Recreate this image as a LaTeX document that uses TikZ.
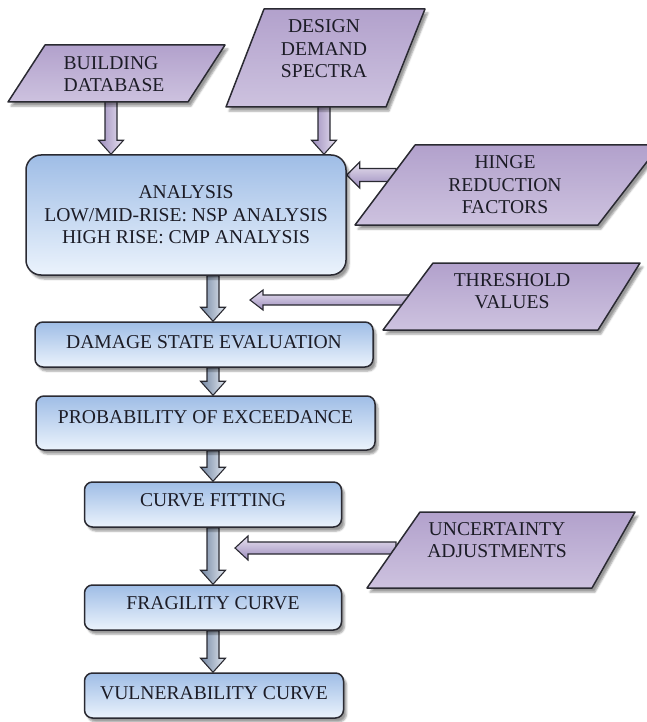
\documentclass[tikz,border=0pt]{standalone}
\usepackage{fontspec}
\setmainfont{Liberation Serif}
\usetikzlibrary{calc,shadows,shadows.blur}
\pgfdeclarelayer{bg}
\pgfsetlayers{bg,main}
\definecolor{boxtop}{HTML}{9FBDE6}
\definecolor{boxbot}{HTML}{EBF3FC}
\definecolor{partop}{HTML}{B2A1CC}
\definecolor{parbot}{HTML}{CDC2DF}
\definecolor{edge}{HTML}{2A2A32}
\definecolor{arrdark}{HTML}{7386A2}
\definecolor{arrlight}{HTML}{E4EAF2}
\definecolor{pardark}{HTML}{9C8CBD}
\definecolor{parlight}{HTML}{E8E2F0}
\definecolor{txt}{HTML}{1C1C26}
\newcommand\diafont{\fontsize{19.6pt}{22.5pt}\selectfont}
\newcommand\liftby[2]{\raisebox{#1}[\height][\depth]{#2}}
\tikzset{
  box/.style={draw=edge, line width=1.5pt, rounded corners=8pt,
    top color=boxtop, bottom color=boxbot,
    blur shadow={shadow xshift=3pt, shadow yshift=-4pt},
    inner sep=0pt, font=\diafont, text=txt, align=center},
  parshape/.style={draw=edge, line width=1.5pt, line join=round,
    top color=partop, bottom color=parbot,
    blur shadow={shadow xshift=3pt, shadow yshift=-4pt}},
  ptext/.style={font=\diafont, text=txt, align=center, inner sep=0pt},
  fatv/.style={to path={let \p1=(\tikztostart), \p2=(\tikztotarget) in
    (\x1-6pt,\y1) -- (\x1-6pt,\y2+14pt) -- (\x1-12.5pt,\y2+14pt) -- (\x1,\y2)
    -- (\x1+12.5pt,\y2+14pt) -- (\x1+6pt,\y2+14pt) -- (\x1+6pt,\y1) -- cycle}},
  fath/.style={to path={let \p1=(\tikztostart), \p2=(\tikztotarget) in
    (\x1,\y1+#1) -- (\x2+13pt,\y1+#1) -- (\x2+13pt,\y1+2*#1) -- (\x2,\y1)
    -- (\x2+13pt,\y1-2*#1) -- (\x2+13pt,\y1-#1) -- (\x1,\y1-#1) -- cycle}},
  bluearrow/.style={draw=edge, line width=1.1pt, line join=miter,
    left color=arrdark, right color=arrlight},
  purparrow/.style={draw=edge, line width=1.1pt, line join=miter,
    left color=pardark, right color=parlight},
  lavarrow/.style={draw=edge, line width=1.1pt, line join=miter,
    top color=parlight, bottom color=pardark}
}
\begin{document}
\begin{tikzpicture}[x=1pt,y=-1pt]
\useasboundingbox (0,0) rectangle (647,722);

% input parallelograms
\draw[parshape] (45,45) -- (225,45) -- (188,102) -- (8,102) -- cycle;
\node[ptext, align=left] (bdtext) at (114,74) {BUILDING\\DATABASE};
\draw[parshape] (264,9) -- (425,9) -- (386,107) -- (226,107) -- cycle;
\node[ptext] (ddstext) at (324,49) {DESIGN\\DEMAND\\SPECTRA};
\draw[parshape] (415,145) -- (660,145) -- (598,225) -- (355,225) -- cycle;
\node[ptext] (hingetext) at (505,185) {HINGE\\REDUCTION\\FACTORS};
\draw[parshape] (433,263) -- (640,263) -- (598,330) -- (383,330) -- cycle;
\node[ptext] (thrtext) at (512,291) {THRESHOLD\\VALUES};
\draw[parshape] (420,512) -- (635,512) -- (592,588) -- (367,588) -- cycle;
\node[ptext] (unctext) at (497,540) {UNCERTAINTY\\ADJUSTMENTS};

\coordinate (bdout) at (111,100);
\coordinate (ddsout) at (324,105);
\coordinate (hingeout) at (396,175);
\coordinate (throut) at (412,300);
\coordinate (thrtip) at (250,300);
\coordinate (uncout) at (396,548);
\coordinate (unctip) at (235,548);

% process boxes
\node[box, rounded corners=15pt, minimum width=320, minimum height=120] (analysis) at (186,215)
  {ANALYSIS\\LOW/MID-RISE: NSP ANALYSIS\\HIGH RISE: CMP ANALYSIS};
\node[box, minimum width=338, minimum height=45] (dse) at (204,344.5)
  {\liftby{2pt}{DAMAGE STATE EVALUATION}};
\node[box, minimum width=339, minimum height=54] (poe) at (205.5,423)
  {\liftby{6pt}{PROBABILITY OF EXCEEDANCE}};
\node[box, minimum width=257, minimum height=45] (cf) at (213,504.5)
  {\liftby{4pt}{CURVE FITTING}};
\node[box, minimum width=257, minimum height=45] (frag) at (213,607.5)
  {\liftby{4pt}{FRAGILITY CURVE}};
\node[box, minimum width=259, minimum height=45] (vuln) at (214,695.5)
  {\liftby{2pt}{VULNERABILITY CURVE}};

\begin{pgfonlayer}{bg}
\draw[fatv, purparrow] (bdout) to (bdout |- analysis.north);
\draw[fatv, purparrow] (ddsout) to (ddsout |- analysis.north);
\draw[fath=6.5pt, lavarrow] (hingeout) to (hingeout -| analysis.east);
\draw[fatv, bluearrow] (analysis.south -| cf.north) to (dse.north -| cf.north);
\draw[fath=5pt, lavarrow] (throut) to (thrtip);
\draw[fatv, bluearrow] (dse.south -| cf.north) to (poe.north -| cf.north);
\draw[fatv, bluearrow] (poe.south -| cf.north) to (cf.north);
\draw[fatv, bluearrow] (cf.south) to (frag.north);
\draw[fath=6pt, lavarrow] (uncout) to (unctip);
\draw[fatv, bluearrow] (frag.south) to (vuln.north);
\end{pgfonlayer}
\end{tikzpicture}
\end{document}
